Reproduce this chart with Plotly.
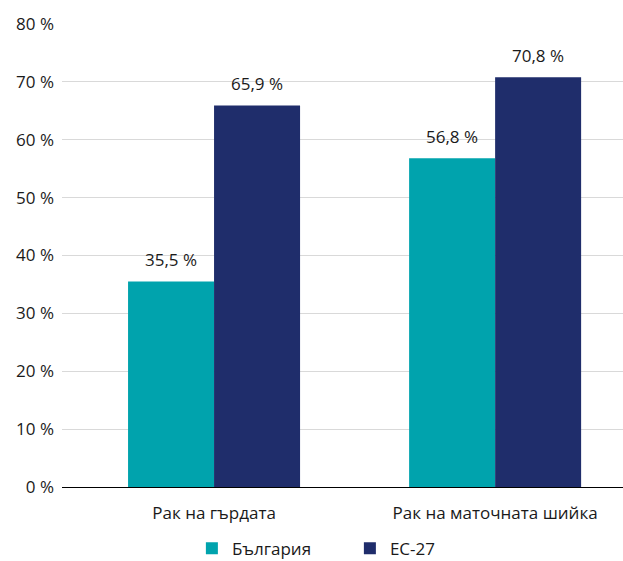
import plotly.graph_objects as go

categories = ["Рак на гърдата", "Рак на маточната шийка"]
bulgaria = [35.5, 56.8]
eu27 = [65.9, 70.8]
series_names = ["България", "ЕС-27"]
colors = ["#00A3AD", "#1F2D6B"]
y_ticks = [0, 10, 20, 30, 40, 50, 60, 70, 80]
y_tick_labels = [f"{t} %" for t in y_ticks]

fig = go.Figure()
for name, vals, col in zip(series_names, [bulgaria, eu27], colors):
    fig.add_trace(go.Bar(x=categories, y=vals, name=name, marker_color=col,
                         marker_line_width=0, offsetgroup=name))

for vals, shift in [(bulgaria, -43), (eu27, 43)]:
    for c, v in zip(categories, vals):
        fig.add_annotation(x=c, y=v, xref="x", yref="y", text=f"{v:.1f}".replace(".", ",") + " %",
                           showarrow=False, xshift=shift, yshift=22, yanchor="middle",
                           font=dict(size=17, color="#1A1A1A"))

fig.update_layout(
    width=623, height=561,
    margin=dict(l=62, r=0, t=24, b=74),
    paper_bgcolor="white", plot_bgcolor="white",
    font=dict(family="Open Sans", size=17, color="#1A1A1A"),
    barmode="group", bargap=0.388, bargroupgap=0,
    showlegend=True,
    legend=dict(orientation="h", xref="container", yref="container",
                x=0.308, xanchor="left", y=0.022, yanchor="middle",
                font=dict(size=17), entrywidth=113, itemwidth=30),
    xaxis=dict(range=[-0.541, 1.455], showline=False, ticks="", showgrid=False,
               ticklabelstandoff=14),
    yaxis=dict(range=[0, 80], tickvals=y_ticks, ticktext=y_tick_labels, showgrid=True,
               gridcolor="#D9D9D9", gridwidth=1, zeroline=True, zerolinecolor="#000000",
               zerolinewidth=1.2, ticks="", ticklabelstandoff=7),
)

fig.write_html("out.html")
